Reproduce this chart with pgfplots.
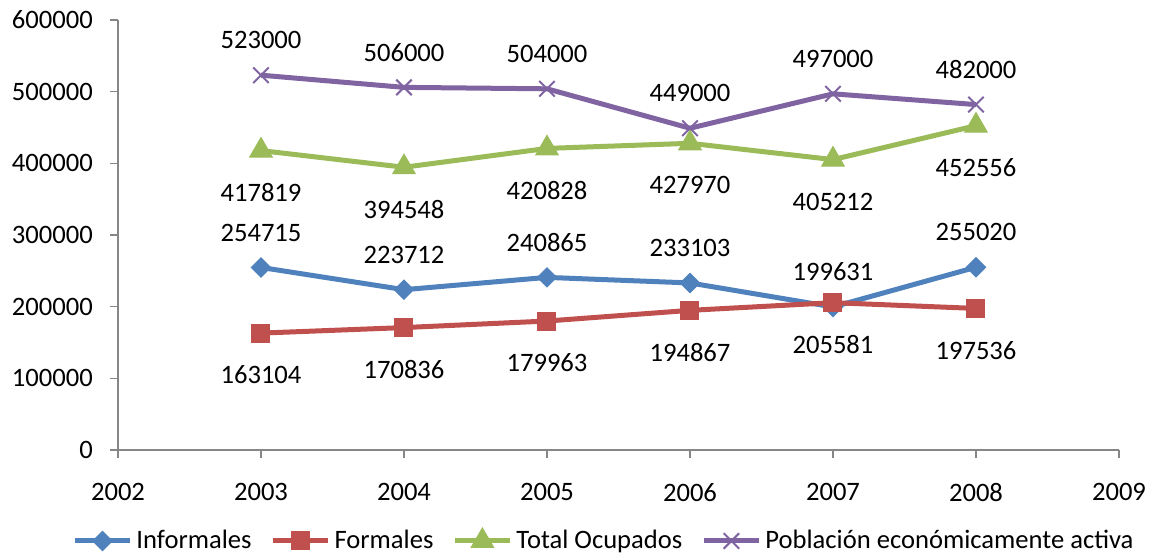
\documentclass[border=0pt]{standalone}
\usepackage{fontspec}
\setmainfont{Carlito}
\usepackage{pgfplots}
\pgfplotsset{compat=1.18}
\definecolor{cInf}{HTML}{4F81BD}
\definecolor{cFor}{HTML}{C0504D}
\definecolor{cTot}{HTML}{9BBB59}
\definecolor{cPea}{HTML}{8064A2}
\definecolor{axgray}{HTML}{868686}
\newcommand{\cf}{\fontsize{13.3bp}{16bp}\selectfont}
\begin{document}
\cf
\begin{tikzpicture}
\useasboundingbox (-59bp,-52bp) rectangle (519bp,225bp);
\begin{axis}[
  at={(0,0)}, anchor=south west, scale only axis,
  width=500.5bp, height=215bp,
  xmin=2002, xmax=2009, ymin=0, ymax=600000,
  xtick={2002,2003,2004,2005,2006,2007,2008,2009},
  ytick={0,100000,200000,300000,400000,500000,600000},
  scaled y ticks=false,
  axis lines*=left,
  axis line style={draw=axgray, line width=0.75bp},
  tick style={draw=axgray, line width=0.75bp},
  tick align=outside, major tick length=4bp,
  /pgf/number format/fixed,
  /pgf/number format/precision=0,
  /pgf/number format/1000 sep={},
  /pgf/number format/assume math mode=true,
  tick label style={font=\cf, text=black},
  yticklabel style={xshift=-4bp},
  xticklabel style={yshift=-8bp},
  clip=false,
  legend style={at={(0.4865,-0.2116)}, anchor=center, draw=none, fill=none,
    font=\cf, /tikz/every even column/.append style={column sep=7.5bp}},
  legend columns=4,
  legend cell align=left,
  legend image code/.code={\draw[#1, mark repeat=2, mark phase=2] plot coordinates {(0bp,0bp) (13.75bp,0bp) (27.5bp,0bp)};},
  every axis plot/.append style={line width=2.5bp},
  point meta=explicit symbolic,
  every node near coord/.append style={font=\cf, text=black, anchor=center},
]
\addplot[color=cInf, mark=square*, mark size=3.4bp, mark options={rotate=45, line width=0.5bp, solid},
  nodes near coords, every node near coord/.append style={yshift=17.5bp}]
  coordinates {(2003,254715)[254715] (2004,223712)[223712] (2005,240865)[240865] (2006,233103)[233103] (2007,199631)[199631] (2008,255020)[255020]};
\addlegendentry{Informales}
\addplot[color=cFor, mark=square*, mark size=4.5bp, mark options={line width=0.5bp, solid},
  nodes near coords, every node near coord/.append style={yshift=-21bp}]
  coordinates {(2003,163104)[163104] (2004,170836)[170836] (2005,179963)[179963] (2006,194867)[194867] (2007,205581)[205581] (2008,197536)[197536]};
\addlegendentry{Formales}
\addplot[color=cTot, mark=triangle*, mark size=6.5bp, mark options={line width=0.5bp, solid},
  nodes near coords, every node near coord/.append style={yshift=-21bp}]
  coordinates {(2003,417819)[417819] (2004,394548)[394548] (2005,420828)[420828] (2006,427970)[427970] (2007,405212)[405212] (2008,452556)[452556]};
\addlegendentry{Total Ocupados}
\addplot[color=cPea, mark=x, mark size=5.5bp, mark options={line width=1bp, solid},
  nodes near coords, every node near coord/.append style={yshift=17.5bp}]
  coordinates {(2003,523000)[523000] (2004,506000)[506000] (2005,504000)[504000] (2006,449000)[449000] (2007,497000)[497000] (2008,482000)[482000]};
\addlegendentry{Población económicamente activa}
\end{axis}
\end{tikzpicture}
\end{document}
